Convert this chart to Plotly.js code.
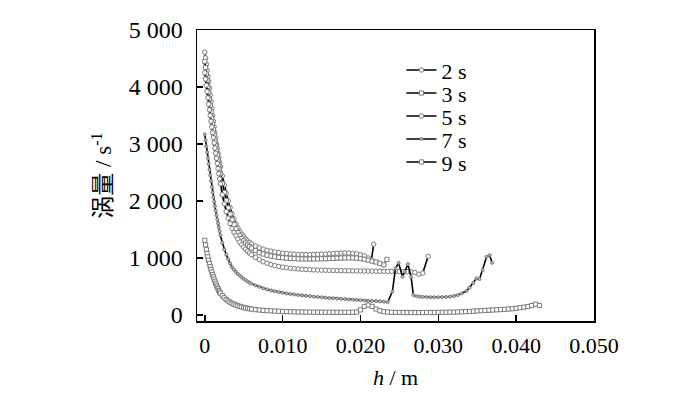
<!DOCTYPE html>
<html>
<head>
<meta charset="utf-8">
<script src="https://cdn.plot.ly/plotly-3.0.1.min.js"></script>
<style>
  html, body { margin: 0; padding: 0; background: #fff; }
  #plotDiv { width: 700px; height: 403px; }
</style>
</head>
<body>
<div id="plotDiv"></div>
<script>
'use strict';

// sample positions h (m): fine near the wall, then coarser
const hGrid = [
    0, 0.0001, 0.0002, 0.0003, 0.0004, 0.0005, 0.0006, 0.0007, 0.0008, 0.0009,
    0.001, 0.0011, 0.0012, 0.0013, 0.0014, 0.0015, 0.0016, 0.0017, 0.0018, 0.0019, 0.002,
    0.00225, 0.0025, 0.00275, 0.003, 0.00325, 0.0035, 0.00375, 0.004,
    0.00425, 0.0045, 0.00475, 0.005, 0.00525, 0.0055, 0.00575, 0.006,
    0.0065, 0.007, 0.0075, 0.008, 0.0085, 0.009, 0.0095,
    0.010, 0.0105, 0.011, 0.0115, 0.012, 0.0125, 0.013, 0.0135, 0.014, 0.0145,
    0.015, 0.0155, 0.016, 0.0165, 0.017, 0.0175, 0.018, 0.0185, 0.019, 0.0195,
    0.020, 0.0205, 0.021, 0.0215, 0.022, 0.0225, 0.023, 0.0235, 0.024, 0.0245,
    0.025, 0.0255, 0.026, 0.0265, 0.027, 0.0275, 0.028, 0.0285, 0.029, 0.0295,
    0.030, 0.0305, 0.031, 0.0315, 0.032, 0.0325, 0.033, 0.0335, 0.034, 0.0345,
    0.035, 0.0355, 0.036, 0.0365, 0.037, 0.0375, 0.038, 0.0385, 0.039, 0.0395,
    0.040, 0.0405, 0.041, 0.0415, 0.042, 0.0425, 0.043
];

// vorticity (1/s); wall part = first 37 grid points
const wall2s = [
    4610, 4510, 4400, 4290, 4190, 4100, 3980, 3860, 3740, 3620,
    3500, 3400, 3300, 3200, 3100, 3000, 2920, 2840, 2760, 2680, 2600,
    2440, 2280, 2135, 2000, 1885, 1780, 1685, 1600,
    1530, 1470, 1415, 1370, 1333, 1300, 1273, 1250
];
const far2s = [
    1210, 1180, 1155, 1135, 1120, 1105, 1095,
    1085, 1078, 1072, 1067, 1064, 1062, 1061, 1061, 1062, 1064,
    1067, 1070, 1074, 1078, 1082, 1086, 1090, 1088, 1082, 1072,
    1058, 1038, 1000
];
const tail2sH = [0.0214, 0.0217];
const tail2sV = [965, 1243];

const wall3s = [
    4450, 4340, 4230, 4120, 4010, 3900, 3790, 3680, 3570, 3460,
    3350, 3250, 3155, 3060, 2970, 2880, 2800, 2720, 2640, 2560, 2480,
    2310, 2150, 2010, 1880, 1770, 1670, 1585, 1510,
    1445, 1390, 1342, 1300, 1263, 1230, 1201, 1175
];
const far3s = [
    1130, 1095, 1070, 1050, 1035, 1022, 1012,
    1004, 998, 993, 989, 986, 984, 983, 983, 983, 984,
    986, 988, 991, 994, 997, 1000, 1002, 1003, 1002, 998,
    990, 978, 962, 945, 930, 905, 880
];
const tail3sH = [0.0234];
const tail3sV = [975];

const wall5s = [
    4250, 4140, 4030, 3920, 3810, 3700, 3600, 3500, 3400, 3300,
    3200, 3110, 3020, 2930, 2840, 2750, 2660, 2570, 2480, 2390, 2300,
    2110, 1950, 1815, 1700, 1605, 1520, 1450, 1390,
    1332, 1280, 1233, 1190, 1153, 1120, 1088, 1060
];
const far5s = [
    1010, 970, 935, 908, 885, 866, 851,
    839, 829, 821, 814, 808, 803, 799, 795, 792, 789,
    787, 785, 783, 781, 779, 778, 777, 776, 775, 774,
    773, 772, 771, 770, 769, 768, 767, 766, 765, 764,
    763, 762, 760, 757, 745, 715, 735
];
const tail5sH = [0.0287];
const tail5sV = [1030];

const wall7s = [
    3170, 3065, 2960, 2855, 2750, 2650, 2550, 2450, 2350, 2250,
    2150, 2070, 1990, 1910, 1830, 1750, 1680, 1610, 1540, 1470, 1400,
    1270, 1150, 1060, 980, 905, 840, 795, 755,
    720, 690, 660, 635, 610, 588, 568, 550
];
const far7s = [
    520, 494, 470, 450, 432, 416, 402,
    390, 379, 369, 360, 352, 344, 337, 330, 323, 317,
    311, 305, 299, 294, 289, 284, 279, 274, 269, 265,
    260, 256, 252, 248, 244, 240, 235, 228
];
const tail7sH = [
    0.0241, 0.0245, 0.0249, 0.0254, 0.0257, 0.0261, 0.0265, 0.0268, 0.0272, 0.0276,
    0.028, 0.0285, 0.029, 0.0295, 0.030, 0.0305, 0.031, 0.0315, 0.032, 0.0325,
    0.033, 0.0336, 0.034, 0.0345, 0.0349, 0.0353, 0.0357, 0.0362, 0.0366, 0.0369
];
const tail7sV = [
    410, 820, 915, 670, 760, 893, 670, 350, 330, 322,
    318, 315, 313, 312, 312, 314, 317, 322, 332, 350,
    378, 420, 480, 560, 643, 630, 788, 1021, 1050, 916
];

const wall9s = [
    1310, 1230, 1150, 1080, 1020, 960, 905, 850, 800, 755,
    710, 670, 630, 592, 556, 522, 490, 460, 432, 406, 382,
    340, 303, 272, 246, 224, 205, 189, 175,
    162, 151, 141, 132, 124, 117, 110, 104
];
const far9s = [
    95, 88, 82, 77, 73, 69, 66,
    63, 60, 58, 56, 54, 53, 52, 51, 50, 49,
    49, 48, 48, 47, 47, 47, 47, 47, 48, 52,
    90, 150, 175, 150, 105, 75, 60, 52, 48, 46,
    45, 44, 44, 43, 43, 43, 43, 44, 44, 45,
    46, 47, 48, 49, 51, 53, 56, 59, 63, 67,
    72, 76, 80, 84, 88, 92, 96, 100, 105, 110,
    118, 128, 138, 148, 165, 190, 165
];

const seriesNames = ['2 s', '3 s', '5 s', '7 s', '9 s'];
const xTickVals = [0, 0.01, 0.02, 0.03, 0.04, 0.05];
const xTickText = ['0', '0.010', '0.020', '0.030', '0.040', '0.050'];
const yTickVals = [0, 1000, 2000, 3000, 4000, 5000];
const yTickText = ['0', '1 000', '2 000', '3 000', '4 000', '5 000'];

const serif = 'Liberation Serif, Times New Roman, Noto Sans CJK SC, serif';

function curve(name, wall, far, tailH, tailV, symbol, fill, size, legendId){
    const vals = wall.concat(far);
    const x = hGrid.slice(0, vals.length).concat(tailH);
    const y = vals.concat(tailV);
    return {
        x: x, y: y, name: name, legend: legendId,
        type: 'scatter', mode: 'lines+markers',
        line: {color: '#000', width: 1.6},
        marker: {symbol: symbol, size: size, color: fill,
                 line: {color: '#7a7a7a', width: 1}}
    };
}

var data = [
    curve(seriesNames[0], wall2s, far2s, tail2sH, tail2sV, 'circle', '#fff', 4.5, 'legend'),
    curve(seriesNames[1], wall3s, far3s, tail3sH, tail3sV, 'square', '#fff', 4.2, 'legend2'),
    curve(seriesNames[2], wall5s, far5s, tail5sH, tail5sV, 'circle', '#fff', 4.5, 'legend3'),
    curve(seriesNames[3], wall7s, far7s, tail7sH, tail7sV, 'circle', '#bbb', 3, 'legend4'),
    curve(seriesNames[4], wall9s, far9s, [], [], 'square', '#fff', 4.2, 'legend5')
];

// one legend per entry so the rows can sit as tight as in the figure
function legendBox(ypos){
    return {
        x: 0.515, y: ypos, xanchor: 'left', yanchor: 'top',
        bgcolor: 'rgba(0,0,0,0)',
        font: {family: serif, size: 22, color: '#000'},
        itemwidth: 30
    };
}

var layout = {
    width: 700,
    height: 403,
    paper_bgcolor: '#fff',
    plot_bgcolor: '#fff',
    font: {family: serif, size: 22, color: '#000'},
    margin: {l: 197, r: 106, t: 30, b: 82, pad: 0},
    showlegend: true,
    legend: legendBox(0.934),
    legend2: legendBox(0.855),
    legend3: legendBox(0.776),
    legend4: legendBox(0.697),
    legend5: legendBox(0.618),
    xaxis: {
        range: [-0.001, 0.050],
        tickvals: xTickVals,
        ticktext: xTickText,
        ticks: 'inside', ticklen: 6, tickwidth: 1.5, tickcolor: '#000',
        ticklabelstandoff: 4,
        showline: true, linecolor: '#000', linewidth: 1.5, mirror: true,
        showgrid: false, zeroline: false,
        title: {text: '<i>h</i> / m', font: {family: serif, size: 22}, standoff: 12}
    },
    yaxis: {
        range: [-105, 5000],
        tickvals: yTickVals,
        ticktext: yTickText,
        tickfont: {family: serif, size: 24},
        ticks: 'inside', ticklen: 6, tickwidth: 1.5, tickcolor: '#000',
        ticklabelstandoff: 8,
        showline: true, linecolor: '#000', linewidth: 1.5, mirror: true,
        showgrid: false, zeroline: false,
        title: {text: '涡量 / s<sup>-1</sup>', font: {family: serif, size: 23}, standoff: 10}
    }
};

Plotly.newPlot('plotDiv', data, layout, {staticPlot: true});
</script>
</body>
</html>
